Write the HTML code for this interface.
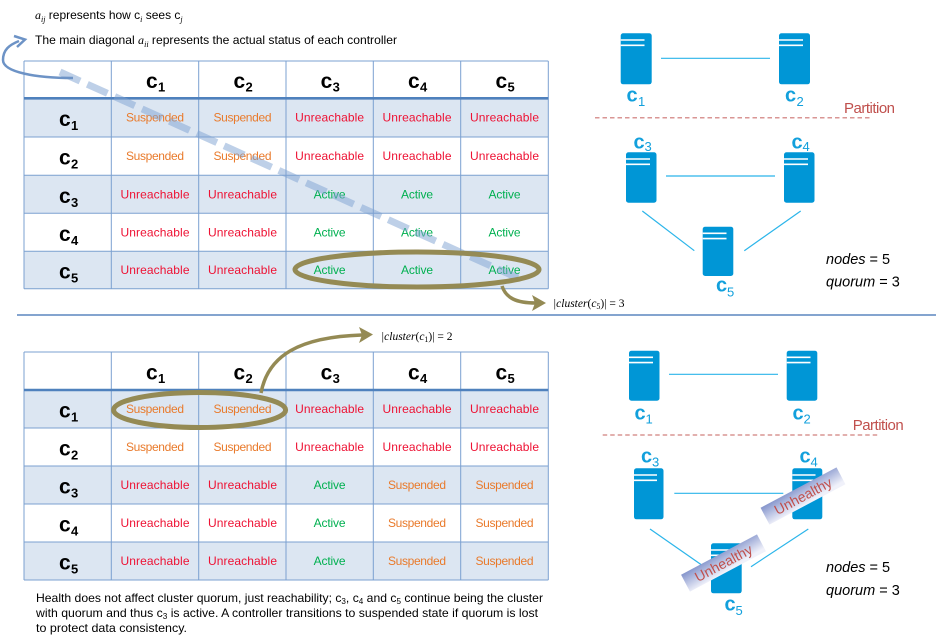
<!DOCTYPE html>
<html><head><meta charset="utf-8"><style>
html,body{margin:0;padding:0;background:#fff;}
svg{display:block;}
text{font-family:"Liberation Sans",sans-serif;}
.s{fill:#e97a2b;font-size:12px;text-anchor:middle;}
.u{fill:#ee1133;font-size:12px;text-anchor:middle;}
.a{fill:#00b050;font-size:12px;text-anchor:middle;}
.hc{font-size:21px;font-weight:bold;fill:#000;}
.hs{font-size:13px;font-weight:bold;fill:#000;}
.dc{font-size:20px;font-weight:bold;fill:#12a0dc;}
.ds{font-size:13px;fill:#12a0dc;}
.ln{stroke:#7ba0d0;stroke-width:1;}
.cn{stroke:#2bb5ea;stroke-width:1.2;}
.srv{fill:#0096d6;}
.sl{stroke:#fff;stroke-width:1.6;}
.math{font-family:"Liberation Serif",serif;font-size:11.5px;fill:#000;}
.p{font-size:12px;fill:#000;}
.it{font-style:italic;font-family:"Liberation Serif",serif;}
</style></head><body>
<svg width="936" height="643" viewBox="0 0 936 643" xmlns="http://www.w3.org/2000/svg">
<defs>
<linearGradient id="bg" x1="0" y1="0" x2="0.25" y2="1">
<stop offset="0" stop-color="#8595cc"/><stop offset="1" stop-color="#f0f1fa"/>
</linearGradient>
</defs>

<!-- top texts -->
<text class="p" x="35" y="19"><tspan class="it">a</tspan><tspan class="it" font-size="8" dy="3">ij</tspan><tspan dy="-3"> represents how c</tspan><tspan font-size="8" dy="3" class="it">i</tspan><tspan dy="-3"> sees c</tspan><tspan font-size="8" dy="3" class="it">j</tspan></text>
<text class="p" x="35" y="44" textLength="362" lengthAdjust="spacingAndGlyphs">The main diagonal <tspan class="it">a</tspan><tspan class="it" font-size="8" dy="3">ii</tspan><tspan dy="-3"> represents the actual status of each controller</tspan></text>

<!-- TOP TABLE -->
<rect x="24" y="98.3" width="524.3" height="38.7" fill="#dce6f2"/>
<rect x="24" y="175.3" width="524.3" height="38" fill="#dce6f2"/>
<rect x="24" y="251.3" width="524.3" height="37.4" fill="#dce6f2"/>
<g class="ln">
<line x1="24" y1="61" x2="548.3" y2="61"/>
<line x1="24" y1="137" x2="548.3" y2="137"/>
<line x1="24" y1="175.3" x2="548.3" y2="175.3"/>
<line x1="24" y1="213.3" x2="548.3" y2="213.3"/>
<line x1="24" y1="251.3" x2="548.3" y2="251.3"/>
<line x1="24" y1="288.7" x2="548.3" y2="288.7"/>
<line x1="24" y1="61" x2="24" y2="288.7"/>
<line x1="111.3" y1="61" x2="111.3" y2="288.7"/>
<line x1="198.7" y1="61" x2="198.7" y2="288.7"/>
<line x1="286" y1="61" x2="286" y2="288.7"/>
<line x1="373.3" y1="61" x2="373.3" y2="288.7"/>
<line x1="460.7" y1="61" x2="460.7" y2="288.7"/>
<line x1="548.3" y1="61" x2="548.3" y2="288.7"/>
</g>
<line x1="24" y1="98.3" x2="548.3" y2="98.3" stroke="#4f81bd" stroke-width="2.6"/>

<!-- top headers -->
<text class="hc" x="146" y="88.2">c</text><text class="hs" x="158" y="91.7">1</text>
<text class="hc" x="233.5" y="88.2">c</text><text class="hs" x="245.5" y="91.7">2</text>
<text class="hc" x="320.6" y="88.2">c</text><text class="hs" x="332.6" y="91.7">3</text>
<text class="hc" x="408" y="88.2">c</text><text class="hs" x="420" y="91.7">4</text>
<text class="hc" x="495.5" y="88.2">c</text><text class="hs" x="507.5" y="91.7">5</text>

<text class="hc" x="59" y="126.2">c</text><text class="hs" x="71" y="130.2">1</text>
<text class="hc" x="59" y="164.7">c</text><text class="hs" x="71" y="168.7">2</text>
<text class="hc" x="59" y="202.8">c</text><text class="hs" x="71" y="206.8">3</text>
<text class="hc" x="59" y="240.8">c</text><text class="hs" x="71" y="244.8">4</text>
<text class="hc" x="59" y="278.5">c</text><text class="hs" x="71" y="282.5">5</text>

<!-- top cells -->
<text class="s" x="155" y="121.7" textLength="58">Suspended</text>
<text class="s" x="242.5" y="121.7" textLength="58">Suspended</text>
<text class="u" x="329.6" y="121.7" textLength="69">Unreachable</text>
<text class="u" x="417" y="121.7" textLength="69">Unreachable</text>
<text class="u" x="504.5" y="121.7" textLength="69">Unreachable</text>

<text class="s" x="155" y="160.2" textLength="58">Suspended</text>
<text class="s" x="242.5" y="160.2" textLength="58">Suspended</text>
<text class="u" x="329.6" y="160.2" textLength="69">Unreachable</text>
<text class="u" x="417" y="160.2" textLength="69">Unreachable</text>
<text class="u" x="504.5" y="160.2" textLength="69">Unreachable</text>

<text class="u" x="155" y="198.3" textLength="69">Unreachable</text>
<text class="u" x="242.5" y="198.3" textLength="69">Unreachable</text>
<text class="a" x="329.6" y="198.3" textLength="32">Active</text>
<text class="a" x="417" y="198.3" textLength="32">Active</text>
<text class="a" x="504.5" y="198.3" textLength="32">Active</text>

<text class="u" x="155" y="236.3" textLength="69">Unreachable</text>
<text class="u" x="242.5" y="236.3" textLength="69">Unreachable</text>
<text class="a" x="329.6" y="236.3" textLength="32">Active</text>
<text class="a" x="417" y="236.3" textLength="32">Active</text>
<text class="a" x="504.5" y="236.3" textLength="32">Active</text>

<text class="u" x="155" y="274" textLength="69">Unreachable</text>
<text class="u" x="242.5" y="274" textLength="69">Unreachable</text>
<text class="a" x="329.6" y="274" textLength="32">Active</text>
<text class="a" x="417" y="274" textLength="32">Active</text>
<text class="a" x="504.5" y="274" textLength="32">Active</text>

<!-- dashed diagonal -->
<line x1="60" y1="72" x2="520" y2="279" stroke="#7ea2d2" stroke-opacity="0.5" stroke-width="7" stroke-dasharray="22 8"/>
<!-- blue curved arrow -->
<path d="M73,78 C35,78 3,72 3,60 C3,50 9,45 19,41" fill="none" stroke="#6d93c6" stroke-width="2.5"/>
<polyline points="14,36 25,39.5 17,47" fill="none" stroke="#6d93c6" stroke-width="2.5"/>

<!-- top ellipse & arrow -->
<ellipse cx="417" cy="269.5" rx="122" ry="17.5" fill="none" stroke="#948a54" stroke-width="5"/>
<path d="M502,286 C506,298 516,303 536,303" fill="none" stroke="#948a54" stroke-width="3.5"/>
<polygon points="546,303 532,295 535,303 532,311" fill="#948a54"/>
<text class="math" x="553" y="307"><tspan font-style="italic">|cluster</tspan>(<tspan font-style="italic">c</tspan><tspan font-size="8" dy="2">5</tspan><tspan dy="-2">)| = 3</tspan></text>

<!-- separator -->
<line x1="17" y1="315" x2="936" y2="315" stroke="#5b86bf" stroke-width="1.5"/>

<!-- BOTTOM TABLE -->
<rect x="24" y="390" width="524.3" height="38" fill="#dce6f2"/>
<rect x="24" y="466" width="524.3" height="38" fill="#dce6f2"/>
<rect x="24" y="542" width="524.3" height="38" fill="#dce6f2"/>
<g class="ln">
<line x1="24" y1="352" x2="548.3" y2="352"/>
<line x1="24" y1="428" x2="548.3" y2="428"/>
<line x1="24" y1="466" x2="548.3" y2="466"/>
<line x1="24" y1="504" x2="548.3" y2="504"/>
<line x1="24" y1="542" x2="548.3" y2="542"/>
<line x1="24" y1="580" x2="548.3" y2="580"/>
<line x1="24" y1="352" x2="24" y2="580"/>
<line x1="111.3" y1="352" x2="111.3" y2="580"/>
<line x1="198.7" y1="352" x2="198.7" y2="580"/>
<line x1="286" y1="352" x2="286" y2="580"/>
<line x1="373.3" y1="352" x2="373.3" y2="580"/>
<line x1="460.7" y1="352" x2="460.7" y2="580"/>
<line x1="548.3" y1="352" x2="548.3" y2="580"/>
</g>
<line x1="24" y1="390" x2="548.3" y2="390" stroke="#4f81bd" stroke-width="2.6"/>

<text class="hc" x="146" y="379.5">c</text><text class="hs" x="158" y="383">1</text>
<text class="hc" x="233.5" y="379.5">c</text><text class="hs" x="245.5" y="383">2</text>
<text class="hc" x="320.6" y="379.5">c</text><text class="hs" x="332.6" y="383">3</text>
<text class="hc" x="408" y="379.5">c</text><text class="hs" x="420" y="383">4</text>
<text class="hc" x="495.5" y="379.5">c</text><text class="hs" x="507.5" y="383">5</text>

<text class="hc" x="59" y="417.5">c</text><text class="hs" x="71" y="421.5">1</text>
<text class="hc" x="59" y="455.5">c</text><text class="hs" x="71" y="459.5">2</text>
<text class="hc" x="59" y="493.5">c</text><text class="hs" x="71" y="497.5">3</text>
<text class="hc" x="59" y="531.5">c</text><text class="hs" x="71" y="535.5">4</text>
<text class="hc" x="59" y="569.5">c</text><text class="hs" x="71" y="573.5">5</text>

<text class="s" x="155" y="413" textLength="58">Suspended</text>
<text class="s" x="242.5" y="413" textLength="58">Suspended</text>
<text class="u" x="329.6" y="413" textLength="69">Unreachable</text>
<text class="u" x="417" y="413" textLength="69">Unreachable</text>
<text class="u" x="504.5" y="413" textLength="69">Unreachable</text>

<text class="s" x="155" y="451" textLength="58">Suspended</text>
<text class="s" x="242.5" y="451" textLength="58">Suspended</text>
<text class="u" x="329.6" y="451" textLength="69">Unreachable</text>
<text class="u" x="417" y="451" textLength="69">Unreachable</text>
<text class="u" x="504.5" y="451" textLength="69">Unreachable</text>

<text class="u" x="155" y="489" textLength="69">Unreachable</text>
<text class="u" x="242.5" y="489" textLength="69">Unreachable</text>
<text class="a" x="329.6" y="489" textLength="32">Active</text>
<text class="s" x="417" y="489" textLength="58">Suspended</text>
<text class="s" x="504.5" y="489" textLength="58">Suspended</text>

<text class="u" x="155" y="527" textLength="69">Unreachable</text>
<text class="u" x="242.5" y="527" textLength="69">Unreachable</text>
<text class="a" x="329.6" y="527" textLength="32">Active</text>
<text class="s" x="417" y="527" textLength="58">Suspended</text>
<text class="s" x="504.5" y="527" textLength="58">Suspended</text>

<text class="u" x="155" y="565" textLength="69">Unreachable</text>
<text class="u" x="242.5" y="565" textLength="69">Unreachable</text>
<text class="a" x="329.6" y="565" textLength="32">Active</text>
<text class="s" x="417" y="565" textLength="58">Suspended</text>
<text class="s" x="504.5" y="565" textLength="58">Suspended</text>

<!-- bottom ellipse & arrow -->
<ellipse cx="199.6" cy="410" rx="86" ry="17.5" fill="none" stroke="#948a54" stroke-width="5"/>
<path d="M261,393 C268,355 300,337 362,335" fill="none" stroke="#948a54" stroke-width="3.5"/>
<polygon points="373,334.5 359,327 362,335 359,343" fill="#948a54"/>
<text class="math" x="381" y="340"><tspan font-style="italic">|cluster</tspan>(<tspan font-style="italic">c</tspan><tspan font-size="8" dy="2">1</tspan><tspan dy="-2">)| = 2</tspan></text>

<!-- bottom paragraph -->
<text class="p" x="36" y="602" textLength="507" lengthAdjust="spacingAndGlyphs">Health does not affect cluster quorum,  just reachability; c<tspan font-size="8" dy="2">3</tspan><tspan dy="-2">, c</tspan><tspan font-size="8" dy="2">4</tspan><tspan dy="-2"> and c</tspan><tspan font-size="8" dy="2">5</tspan><tspan dy="-2"> continue being the cluster</tspan></text>
<text class="p" x="36" y="617" textLength="502" lengthAdjust="spacingAndGlyphs">with quorum and thus c<tspan font-size="8" dy="2">3</tspan><tspan dy="-2"> is active. A controller transitions to suspended state  if quorum is lost</tspan></text>
<text class="p" x="36" y="632" textLength="151" lengthAdjust="spacingAndGlyphs">to protect data consistency.</text>

<!-- TOP DIAGRAM -->
<line class="cn" x1="661" y1="58.3" x2="770" y2="58.3"/>
<line class="cn" x1="666" y1="176" x2="775" y2="176"/>
<line class="cn" x1="642.3" y1="211" x2="694.3" y2="250.7"/>
<line class="cn" x1="800.7" y1="211" x2="744.3" y2="250.7"/>
<g>
<rect class="srv" x="620.7" y="33.3" width="31" height="51" rx="2.5"/><line class="sl" x1="620.7" y1="40" x2="644.5" y2="40"/><line class="sl" x1="620.7" y1="45.3" x2="644.5" y2="45.3"/>
<rect class="srv" x="779" y="33.3" width="31" height="51" rx="2.5"/><line class="sl" x1="779" y1="40" x2="803" y2="40"/><line class="sl" x1="779" y1="45.3" x2="803" y2="45.3"/>
<rect class="srv" x="626" y="152.3" width="30.5" height="50.4" rx="2.5"/><line class="sl" x1="626" y1="159" x2="650" y2="159"/><line class="sl" x1="626" y1="164.3" x2="650" y2="164.3"/>
<rect class="srv" x="784" y="152.3" width="30.5" height="50.4" rx="2.5"/><line class="sl" x1="784" y1="159" x2="808" y2="159"/><line class="sl" x1="784" y1="164.3" x2="808" y2="164.3"/>
<rect class="srv" x="702.7" y="226.7" width="30.6" height="49.3" rx="2.5"/><line class="sl" x1="702.7" y1="233.3" x2="726.5" y2="233.3"/><line class="sl" x1="702.7" y1="238.6" x2="726.5" y2="238.6"/>
</g>
<text class="dc" x="626.5" y="101.7">c</text><text class="ds" x="638" y="106">1</text>
<text class="dc" x="785" y="101.7">c</text><text class="ds" x="796.5" y="106">2</text>
<text class="dc" x="633.5" y="148.3">c</text><text class="ds" x="644.5" y="151">3</text>
<text class="dc" x="791.5" y="148.3">c</text><text class="ds" x="802.5" y="151">4</text>
<text class="dc" x="716" y="291.7">c</text><text class="ds" x="727" y="296.5">5</text>
<text x="844" y="113" font-size="15" fill="#c0504d" textLength="51">Partition</text>
<line x1="595" y1="117.7" x2="870" y2="117.7" stroke="#d99694" stroke-width="1.5" stroke-dasharray="4.5 3"/>
<text x="826" y="264" font-size="14.5" fill="#000"><tspan font-style="italic">nodes</tspan> = 5</text>
<text x="826" y="286.5" font-size="14.5" fill="#000"><tspan font-style="italic">quorum</tspan> = 3</text>

<!-- BOTTOM DIAGRAM -->
<line class="cn" x1="669" y1="374.3" x2="778" y2="374.3"/>
<line class="cn" x1="674.3" y1="493.3" x2="783.3" y2="493.3"/>
<line class="cn" x1="650" y1="529" x2="701.7" y2="565"/>
<line class="cn" x1="808.3" y1="529" x2="751" y2="566.7"/>
<g>
<rect class="srv" x="629" y="350.7" width="30.5" height="50" rx="2.5"/><line class="sl" x1="629" y1="357.3" x2="653" y2="357.3"/><line class="sl" x1="629" y1="362.6" x2="653" y2="362.6"/>
<rect class="srv" x="786.7" y="350.7" width="30.6" height="50" rx="2.5"/><line class="sl" x1="786.7" y1="357.3" x2="810.5" y2="357.3"/><line class="sl" x1="786.7" y1="362.6" x2="810.5" y2="362.6"/>
<rect class="srv" x="634" y="468.3" width="29.5" height="51" rx="2.5"/><line class="sl" x1="634" y1="475" x2="657" y2="475"/><line class="sl" x1="634" y1="480.3" x2="657" y2="480.3"/>
<rect class="srv" x="792.3" y="468.3" width="30" height="51" rx="2.5"/><line class="sl" x1="792.3" y1="475" x2="815.5" y2="475"/><line class="sl" x1="792.3" y1="480.3" x2="815.5" y2="480.3"/>
<rect class="srv" x="711" y="543.3" width="30.7" height="50" rx="2.5"/><line class="sl" x1="711" y1="550" x2="735" y2="550"/><line class="sl" x1="711" y1="555.3" x2="735" y2="555.3"/>
</g>
<text class="dc" x="634.5" y="419.3">c</text><text class="ds" x="645.5" y="423.5">1</text>
<text class="dc" x="792.5" y="419.3">c</text><text class="ds" x="803.5" y="423.5">2</text>
<text class="dc" x="641" y="462.3">c</text><text class="ds" x="652" y="466.7">3</text>
<text class="dc" x="799.5" y="462.3">c</text><text class="ds" x="810.5" y="466.7">4</text>
<text class="dc" x="724.5" y="610.3">c</text><text class="ds" x="735.5" y="615">5</text>
<text x="852.7" y="430" font-size="15" fill="#c0504d" textLength="51">Partition</text>
<line x1="602.7" y1="435" x2="878" y2="435" stroke="#d99694" stroke-width="1.5" stroke-dasharray="4.5 3"/>
<text x="826" y="572" font-size="14.5" fill="#000"><tspan font-style="italic">nodes</tspan> = 5</text>
<text x="826" y="595" font-size="14.5" fill="#000"><tspan font-style="italic">quorum</tspan> = 3</text>

<!-- Unhealthy banners -->
<g transform="translate(803,496) rotate(-28)">
<rect x="-43" y="-9.5" width="86" height="19" fill="url(#bg)"/>
<text x="0" y="5" font-size="14" fill="#c0504d" text-anchor="middle">Unhealthy</text>
</g>
<g transform="translate(723.5,563) rotate(-28)">
<rect x="-43" y="-9.5" width="86" height="19" fill="url(#bg)"/>
<text x="0" y="5" font-size="14" fill="#c0504d" text-anchor="middle">Unhealthy</text>
</g>
</svg>
</body></html>
